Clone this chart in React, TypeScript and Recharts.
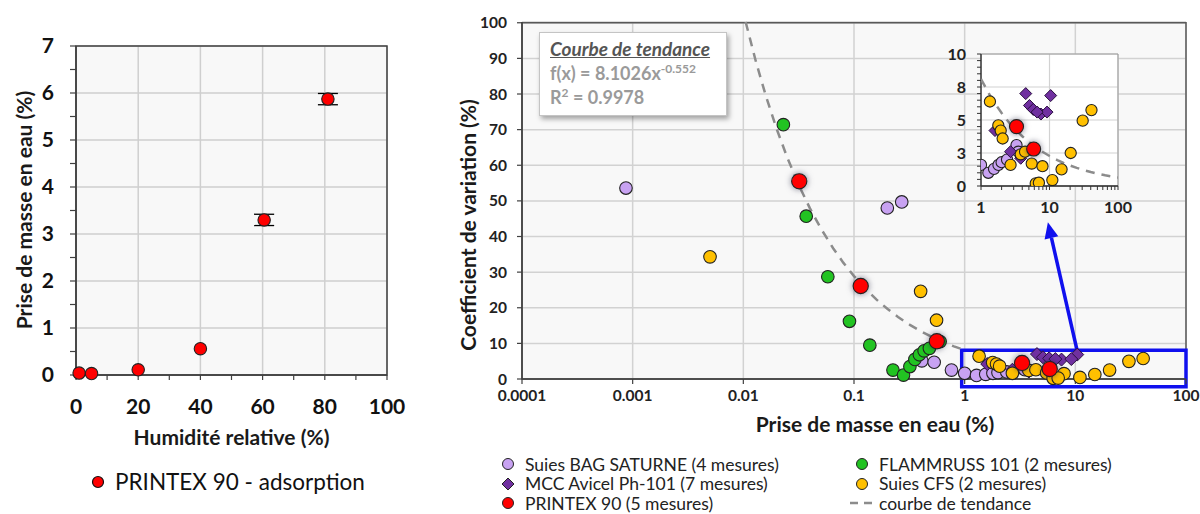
import React from "react";
import {
  ScatterChart,
  Scatter,
  XAxis,
  YAxis,
  CartesianGrid,
  ErrorBar,
  ReferenceArea,
  ReferenceLine,
  Label,
} from "recharts";

const FONT = "Lato, 'Open Sans', 'Noto Sans', sans-serif";

// ---- left chart: PRINTEX 90 adsorption
const humidity = [1, 5, 20, 40, 60.5, 81];
const massGain = [0.04, 0.03, 0.11, 0.56, 3.3, 5.87];
const massErr = [null, null, null, null, 0.12, 0.12];
const humidityTicks = [0, 10, 20, 30, 40, 50, 60, 70, 80, 90, 100];
const humidityGrid = [0, 20, 40, 60, 80, 100];
const massTicks = [0, 0.5, 1, 1.5, 2, 2.5, 3, 3.5, 4, 4.5, 5, 5.5, 6, 6.5, 7];
const massGrid = [0, 1, 2, 3, 4, 5, 6, 7];

// ---- right chart: coefficient de variation vs prise de masse
const bagSaturne = [
  [0.00087, 53.6], [0.2, 48.0], [0.27, 49.7], [0.41, 5.1], [0.53, 4.7], [0.76, 2.5],
  [1.0, 1.6], [1.28, 1.0], [1.55, 1.3], [1.8, 1.6], [2.0, 1.8], [2.4, 2.0], [3.3, 3.1], [3.5, 2.6],
];
const mccAvicel = [
  [4.5, 7.0], [10.4, 6.85], [5.1, 6.1], [5.8, 5.8], [7.5, 5.45], [9.2, 5.6], [6.6, 5.6],
  [1.6, 4.2], [2.7, 2.6], [3.8, 2.1],
];
const flammruss = [
  [0.023, 71.4], [0.037, 45.7], [0.058, 28.7], [0.091, 16.2], [0.139, 9.5], [0.225, 2.5],
  [0.28, 1.1], [0.32, 3.5], [0.355, 5.5], [0.39, 6.8], [0.43, 7.9], [0.48, 8.6], [0.6, 10.5],
];
const suiesCfs = [
  [0.005, 34.3], [0.4, 24.6], [0.557, 16.5], [1.35, 6.4], [1.79, 4.6], [1.94, 4.2], [2.07, 3.6],
  [2.7, 1.6], [3.8, 2.4], [4.4, 2.6], [5.5, 1.7], [7.9, 1.5], [6.3, 0.2], [7.0, 0.25],
  [11, 0.45], [15, 1.26], [20.4, 2.5], [30.5, 4.95], [41, 5.75],
];
const printex = [[0.032, 55.5], [0.115, 26.1], [0.56, 10.6], [3.3, 4.5], [5.87, 2.8]];

const decadeTicks = [0.0001, 0.001, 0.01, 0.1, 1, 10, 100];
const cvTicks = [0, 10, 20, 30, 40, 50, 60, 70, 80, 90, 100];

const insetXTicks = [1, 2, 3, 4, 5, 6, 7, 8, 9, 10, 20, 30, 40, 50, 60, 70, 80, 90, 100];
const insetXGrid = [1, 10, 100];
const insetYTicks = [0, 0.5, 1, 1.5, 2, 2.5, 3, 3.5, 4, 4.5, 5, 5.5, 6, 6.5, 7, 7.5, 8, 8.5, 9, 9.5, 10];
const insetYGrid = [0, 2.5, 5, 7.5, 10];

// trend curve f(x) = 8.1026 x^-0.552 (coefficients shown on the chart)
const trendCoef = 8.1026;
const trendExp = -0.552;
const trendMainX = [0.0105, 0.013, 0.016, 0.02, 0.025, 0.032, 0.04, 0.05, 0.065, 0.08, 0.1, 0.13, 0.16, 0.2, 0.25, 0.32, 0.4, 0.5, 0.65, 0.8, 1];
const trendInsetX = [1, 1.3, 1.6, 2, 2.5, 3.2, 4, 5, 6.5, 8, 10, 13, 16, 20, 25, 32, 40, 50, 65, 80, 100];

const C_BAG = "#c8a2f2";
const C_MCC = "#7030a0";
const C_FLAM = "#22c322";
const C_CFS = "#ffc000";
const C_RED = "#ff0000";

const toPts = (arr: number[][]) => arr.map(([x, y]) => ({ x, y }));
const inInset = (arr: number[][]) => toPts(arr.filter(([x, y]) => x >= 0.95 && x <= 100 && y <= 10));
const trendPts = (xs: number[]) => xs.map((x) => ({ x, y: trendCoef * Math.pow(x, trendExp) }));

const leftData = humidity.map((x, i) => ({ x, y: massGain[i], err: massErr[i] }));

const dot = (fill: string, r: number, glow = false) => (p: any) => (
  <circle
    cx={p.cx}
    cy={p.cy}
    r={r}
    fill={fill}
    stroke="#222"
    strokeWidth={1.1}
    style={glow ? { filter: "drop-shadow(0 0 3px rgba(30,30,60,0.55))" } : undefined}
  />
);
const diamond = (s: number) => (p: any) => (
  <polygon
    points={`${p.cx},${p.cy - s} ${p.cx + s},${p.cy} ${p.cx},${p.cy + s} ${p.cx - s},${p.cy}`}
    fill={C_MCC}
    stroke="#2a1040"
    strokeWidth={1}
  />
);
const noDot = () => <g />;

const trendLine = { stroke: "#8c8c8c", strokeWidth: 2.5, strokeDasharray: "9 7" };

const arrowShape = (p: any) => {
  const { x1, y1, x2, y2 } = p;
  const ang = Math.atan2(y2 - y1, x2 - x1);
  const L = 16;
  const W = 7;
  const bx = x2 - L * Math.cos(ang);
  const by = y2 - L * Math.sin(ang);
  const px = -Math.sin(ang) * W;
  const py = Math.cos(ang) * W;
  return (
    <g>
      <line x1={x1} y1={y1} x2={bx} y2={by} stroke="#1010ee" strokeWidth={3.5} />
      <polygon points={`${x2},${y2} ${bx + px},${by + py} ${bx - px},${by - py}`} fill="#1010ee" />
    </g>
  );
};

const xTitle = (text: string, dx: number, y: number, size: number) => (props: any) => {
  const vb = props.viewBox || { x: 0, width: 0 };
  return (
    <text x={vb.x + vb.width / 2 + dx} y={y} textAnchor="middle" dominantBaseline="central"
      fontSize={size} fontWeight={700} fontFamily={FONT} fill="#1a1a1a">
      {text}
    </text>
  );
};
const yTitle = (text: string, x: number, cy: number, size: number) => () => (
  <text x={x} y={cy} transform={`rotate(-90 ${x} ${cy})`} textAnchor="middle" dominantBaseline="central"
    fontSize={size} fontWeight={700} fontFamily={FONT} fill="#1a1a1a">
    {text}
  </text>
);

const legendItems = [
  { label: "Suies BAG SATURNE (4 mesures)", kind: "circle", color: C_BAG, col: 0, row: 0 },
  { label: "MCC Avicel Ph-101 (7 mesures)", kind: "diamond", color: C_MCC, col: 0, row: 1 },
  { label: "PRINTEX 90 (5 mesures)", kind: "circle", color: C_RED, col: 0, row: 2 },
  { label: "FLAMMRUSS 101 (2 mesures)", kind: "circle", color: C_FLAM, col: 1, row: 0 },
  { label: "Suies CFS (2 mesures)", kind: "circle", color: C_CFS, col: 1, row: 1 },
  { label: "courbe de tendance", kind: "dash", color: "#8c8c8c", col: 1, row: 2 },
];

function LegendMarker({ kind, color }: { kind: string; color: string }) {
  return (
    <svg width={26} height={16} style={{ display: "block" }}>
      {kind === "circle" && <circle cx={13} cy={8} r={5.5} fill={color} stroke="#222" strokeWidth={1} />}
      {kind === "diamond" && <polygon points="13,2 19,8 13,14 7,8" fill={color} stroke="#222" strokeWidth={1} />}
      {kind === "dash" && <line x1={1} y1={8} x2={25} y2={8} stroke={color} strokeWidth={2.5} strokeDasharray="8 6" />}
    </svg>
  );
}

export default function App() {
  const tickStyleLeft = { fill: "#111", fontSize: 21, fontWeight: 700, fontFamily: FONT };
  const tickStyleRight = { fill: "#222", fontSize: 15.5, fontWeight: 700, fontFamily: FONT };
  const tickStyleInset = { fill: "#222", fontSize: 16, fontWeight: 700, fontFamily: FONT };
  const axisDark = { stroke: "#404040", strokeWidth: 1.5 };

  return (
    <div style={{ position: "absolute", left: 0, top: 0, width: 1200, height: 514, background: "#fff", overflow: "hidden", fontFamily: FONT }}>
      {/* left chart */}
      <div style={{ position: "absolute", left: 0, top: 0 }}>
        <ScatterChart width={420} height={460} margin={{ top: 46, right: 33, bottom: 35, left: 0 }}>
          <CartesianGrid fill="#f8f8f8" stroke="#cfcfcf" strokeWidth={1.5}
            verticalValues={humidityGrid} horizontalValues={massGrid} />
          <XAxis type="number" dataKey="x" domain={[0, 100]} ticks={humidityTicks} interval={0}
            tickFormatter={(v: number) => (v % 20 === 0 ? String(v) : "")}
            height={50} tickSize={5} tickMargin={19} axisLine={axisDark} tickLine={{ stroke: "#404040", strokeWidth: 1.2 }}
            tick={tickStyleLeft}>
            <Label content={xTitle("Humidité relative (%)", 0, 436, 21)} />
          </XAxis>
          <YAxis type="number" dataKey="y" domain={[0, 7]} ticks={massTicks} interval={0}
            tickFormatter={(v: number) => (Number.isInteger(v) ? String(v) : "")}
            width={76} tickSize={6} tickMargin={16} axisLine={axisDark} tickLine={{ stroke: "#404040", strokeWidth: 1.2 }}
            tick={tickStyleLeft}>
            <Label content={yTitle("Prise de masse en eau (%)", 23, 210, 21)} />
          </YAxis>
          <ReferenceArea x1={0} x2={100} y1={0} y2={7} fill="none" stroke="#404040" strokeWidth={1.5} ifOverflow="visible" />
          <Scatter data={leftData} fill={C_RED} shape={dot(C_RED, 6.2)} isAnimationActive={false}>
            <ErrorBar dataKey="err" direction="y" width={10} stroke="#000" strokeWidth={1.3} />
          </Scatter>
        </ScatterChart>
      </div>

      {/* left legend */}
      <div style={{ position: "absolute", left: 89, top: 468, display: "flex", alignItems: "center", fontSize: 22.5, color: "#111" }}>
        <svg width={18} height={18} style={{ display: "block" }}>
          <circle cx={9} cy={9} r={5.5} fill={C_RED} stroke="#111" strokeWidth={1.2} />
        </svg>
        <span style={{ marginLeft: 8 }}>PRINTEX 90 - adsorption</span>
      </div>

      {/* right chart */}
      <div style={{ position: "absolute", left: 440, top: 0 }}>
        <ScatterChart width={760} height={440} margin={{ top: 22, right: 14, bottom: 21, left: 0 }}>
          <CartesianGrid fill="#f8f8f8" stroke="#d2d2d2" strokeWidth={1.5} />
          <XAxis type="number" dataKey="x" scale="log" domain={[0.0001, 100]} ticks={decadeTicks} interval={0}
            allowDataOverflow height={40} tickSize={5} tickMargin={6} axisLine={axisDark}
            tickLine={{ stroke: "#404040", strokeWidth: 1.2 }} tick={tickStyleRight}>
            <Label content={xTitle("Prise de masse en eau (%)", 21, 423, 21)} />
          </XAxis>
          <YAxis type="number" dataKey="y" domain={[0, 100]} ticks={cvTicks} interval={0}
            width={82} tickSize={5} tickMargin={10} axisLine={axisDark}
            tickLine={{ stroke: "#404040", strokeWidth: 1.2 }} tick={tickStyleRight}>
            <Label content={yTitle("Coefficient de variation (%)", 27, 225, 21)} />
          </YAxis>
          <ReferenceArea x1={0.0001} x2={100} y1={0} y2={100} fill="none" stroke="#595959" strokeWidth={1.5} ifOverflow="visible" />
          <Scatter data={trendPts(trendMainX)} fill="#8c8c8c" line={trendLine} lineType="joint" shape={noDot} isAnimationActive={false} />
          <Scatter data={toPts(bagSaturne)} fill={C_BAG} shape={dot(C_BAG, 6.3)} isAnimationActive={false} />
          <Scatter data={toPts(mccAvicel)} fill={C_MCC} shape={diamond(6.5)} isAnimationActive={false} />
          <Scatter data={toPts(flammruss)} fill={C_FLAM} shape={dot(C_FLAM, 6.3)} isAnimationActive={false} />
          <Scatter data={toPts(suiesCfs)} fill={C_CFS} shape={dot(C_CFS, 6.3)} isAnimationActive={false} />
          <Scatter data={toPts(printex)} fill={C_RED} shape={dot(C_RED, 7.6, true)} isAnimationActive={false} />
          <ReferenceArea x1={0.94} x2={100} y1={-2.2} y2={8.1} fill="none" stroke="#1010ee" strokeWidth={3.5} ifOverflow="visible" />
          <ReferenceLine segment={[{ x: 10.5, y: 7.3 }, { x: 5.65, y: 44 }]} shape={arrowShape} ifOverflow="visible" />
        </ScatterChart>
      </div>

      {/* trend box */}
      <div style={{
        position: "absolute", left: 539, top: 32, width: 188, height: 84, background: "#fff",
        border: "1px solid #c4c4c4", boxShadow: "2px 3px 5px rgba(0,0,0,0.35)", boxSizing: "border-box",
        padding: "4px 0 0 10px", fontWeight: 700, lineHeight: "24px", whiteSpace: "nowrap",
      }}>
        <div style={{ fontStyle: "italic", textDecoration: "underline", color: "#555", fontSize: 19 }}>Courbe de tendance</div>
        <div style={{ color: "#9a9a9a", fontSize: 18 }}>
          f(x) = 8.1026x<sup style={{ fontSize: 12, verticalAlign: "7px", lineHeight: 0 }}>-0.552</sup>
        </div>
        <div style={{ color: "#9a9a9a", fontSize: 18 }}>
          R<sup style={{ fontSize: 12, verticalAlign: "7px", lineHeight: 0 }}>2</sup> = 0.9978
        </div>
      </div>

      {/* inset chart */}
      <div style={{ position: "absolute", left: 940, top: 40 }}>
        <ScatterChart width={200} height={190} margin={{ top: 14, right: 22, bottom: 14, left: 6 }}>
          <CartesianGrid fill="#ffffff" stroke="#d2d2d2" strokeWidth={1.2}
            verticalValues={insetXGrid} horizontalValues={insetYGrid} />
          <XAxis type="number" dataKey="x" scale="log" domain={[1, 100]} ticks={insetXTicks} interval={0}
            tickFormatter={(v: number) => (v === 1 || v === 10 || v === 100 ? String(v) : "")}
            allowDataOverflow height={30} tickSize={4} tickMargin={12}
            axisLine={{ stroke: "#333", strokeWidth: 1.3 }} tickLine={{ stroke: "#333" }} tick={tickStyleInset} />
          <YAxis type="number" dataKey="y" domain={[0, 10]} ticks={insetYTicks} interval={0}
            tickFormatter={(v: number) => (v % 2.5 === 0 ? String(Math.round(v)) : "")}
            allowDataOverflow width={35} tickSize={4} tickMargin={11}
            axisLine={{ stroke: "#333", strokeWidth: 1.3 }} tickLine={{ stroke: "#333" }} tick={tickStyleInset} />
          <ReferenceArea x1={1} x2={100} y1={0} y2={10} fill="none" stroke="#9a9a9a" strokeWidth={1} ifOverflow="visible" />
          <Scatter data={trendPts(trendInsetX)} fill="#8c8c8c" line={trendLine} lineType="joint" shape={noDot} isAnimationActive={false} />
          <Scatter data={inInset(bagSaturne)} fill={C_BAG} shape={dot(C_BAG, 5.6)} isAnimationActive={false} />
          <Scatter data={inInset(mccAvicel)} fill={C_MCC} shape={diamond(6)} isAnimationActive={false} />
          <Scatter data={inInset(suiesCfs)} fill={C_CFS} shape={dot(C_CFS, 5.6)} isAnimationActive={false} />
          <Scatter data={inInset(printex)} fill={C_RED} shape={dot(C_RED, 7, true)} isAnimationActive={false} />
        </ScatterChart>
      </div>

      {/* right legend */}
      {legendItems.map((it) => (
        <div key={it.label} style={{
          position: "absolute", left: it.col === 0 ? 495 : 849, top: 455 + it.row * 19.5,
          display: "flex", alignItems: "center", fontSize: 17.5, color: "#222", height: 18, whiteSpace: "nowrap",
        }}>
          <LegendMarker kind={it.kind} color={it.color} />
          <span style={{ marginLeft: 4 }}>{it.label}</span>
        </div>
      ))}
    </div>
  );
}
